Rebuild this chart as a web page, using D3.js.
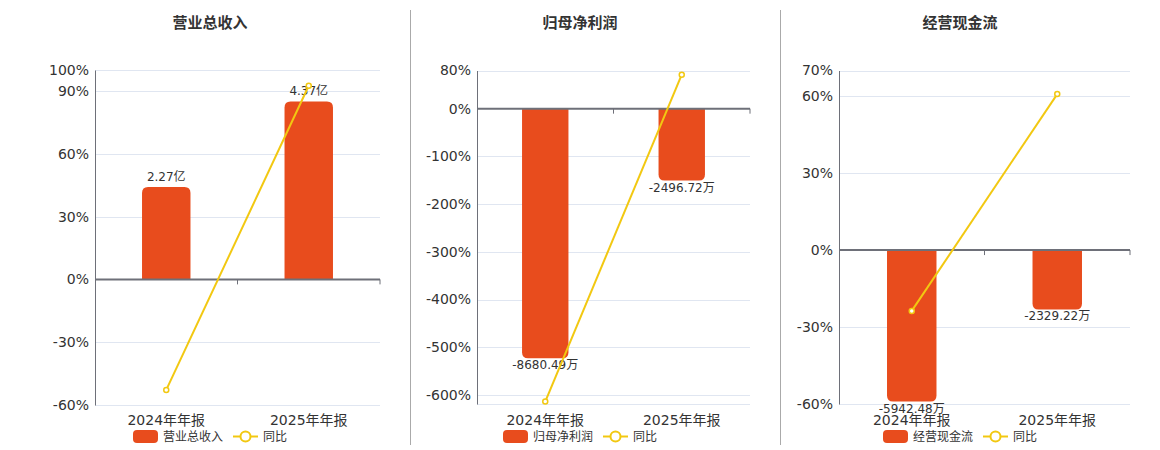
<!DOCTYPE html>
<html><head><meta charset="utf-8">
<script src="https://cdn.jsdelivr.net/npm/d3@7/dist/d3.min.js"></script>
<style>
body{margin:0;background:#fff;}
svg{display:block;font-family:"DejaVu Sans","Noto Sans CJK SC",sans-serif;}
</style></head>
<body><svg id="c" width="1160" height="450"></svg>
<script>
// ---- data ----
const categories = ["2024年年报", "2025年年报"];
const titles = ["营业总收入", "归母净利润", "经营现金流"];
const barValues1 = [2.27, 4.37];          // 亿
const barValues2 = [-8680.49, -2496.72];  // 万
const barValues3 = [-5942.48, -2329.22];  // 万
const barLabels1 = ["2.27亿", "4.37亿"];
const barLabels2 = ["-8680.49万", "-2496.72万"];
const barLabels3 = ["-5942.48万", "-2329.22万"];
const yoy1 = [-52.8, 92.5];
const yoy2 = [-614, 71.2];
const yoy3 = [-23.7, 60.8];
const pctTicks1 = [100, 90, 60, 30, 0, -30, -60];
const pctTicks2 = [80, 0, -100, -200, -300, -400, -500, -600];
const pctTicks3 = [70, 60, 30, 0, -30, -60];
const pctDomain1 = [-60, 100];
const pctDomain2 = [-619, 80];
const pctDomain3 = [-60, 70];
// hidden bar-axis extents (value units) aligned to the percent axis
const barDomain1 = [-3.08, 5.14];
const barDomain2 = [-10270, 1330];
const barDomain3 = [-6040, 7050];

const panels = [
  {title: titles[0], bars: barValues1, labels: barLabels1, yoy: yoy1, ticks: pctTicks1, dom: pctDomain1, bdom: barDomain1,
   left: 95, right: 380, top: 70, bottom: 405, cx: 210},
  {title: titles[1], bars: barValues2, labels: barLabels2, yoy: yoy2, ticks: pctTicks2, dom: pctDomain2, bdom: barDomain2,
   left: 477, right: 750, top: 70.5, bottom: 404, cx: 580},
  {title: titles[2], bars: barValues3, labels: barLabels3, yoy: yoy3, ticks: pctTicks3, dom: pctDomain3, bdom: barDomain3,
   left: 839, right: 1130, top: 70.5, bottom: 404, cx: 960}
];

const BAR = "#E84C1D", LINE = "#F2C811", TXT = "#333", AXIS = "#6E7079", GRID = "#E0E6F1";
const svg = d3.select("#c");

// dividers
[410, 780].forEach(x => svg.append("line").attr("x1", x + 0.5).attr("x2", x + 0.5).attr("y1", 10).attr("y2", 445)
  .attr("stroke", "#aaa").attr("stroke-width", 1));

function roundedBar(x, w, y0, y1, r) {
  const h = Math.abs(y1 - y0);
  r = Math.min(r, h, w / 2);
  if (y1 < y0) {
    return `M${x},${y0}V${y1 + r}Q${x},${y1} ${x + r},${y1}H${x + w - r}Q${x + w},${y1} ${x + w},${y1 + r}V${y0}Z`;
  } else {
    return `M${x},${y0}V${y1 - r}Q${x},${y1} ${x + r},${y1}H${x + w - r}Q${x + w},${y1} ${x + w},${y1 - r}V${y0}Z`;
  }
}

panels.forEach(p => {
  const g = svg.append("g");
  const y = d3.scaleLinear().domain(p.dom).range([p.bottom, p.top]);
  const yb = d3.scaleLinear().domain(p.bdom).range([p.bottom, p.top]);
  const x = d3.scaleBand().domain(categories).range([p.left, p.right]);
  const bw = x.bandwidth() * 0.34;
  const y0 = y(0);

  g.append("text").attr("x", p.cx).attr("y", 28).attr("text-anchor", "middle")
    .attr("font-size", 15).attr("font-weight", "bold").attr("fill", TXT).text(p.title);

  const gridVals = p.ticks.filter(t => t !== 0).concat([p.dom[0]]);
  g.selectAll(".grid").data(gridVals).enter().append("line")
    .attr("x1", p.left).attr("x2", p.right)
    .attr("y1", d => Math.round(y(d)) + 0.5).attr("y2", d => Math.round(y(d)) + 0.5)
    .attr("stroke", GRID).attr("stroke-width", 1);

  const ax = d3.axisLeft(y).tickValues(p.ticks).tickSize(0).tickPadding(6).tickFormat(d => d + "%");
  const ag = g.append("g").attr("transform", `translate(${p.left},0)`).call(ax);
  ag.select(".domain").attr("stroke", AXIS).attr("stroke-width", 1);
  ag.selectAll("text").attr("font-size", 14).attr("fill", TXT).attr("font-family", "DejaVu Sans");

  p.bars.forEach((v, i) => {
    const cx = x(categories[i]) + x.bandwidth() / 2;
    g.append("path").attr("d", roundedBar(cx - bw / 2, bw, y0, yb(v), 6)).attr("fill", BAR);
  });

  const xa = d3.axisBottom(x).tickSize(5).tickFormat("");
  const xg = g.append("g").attr("transform", `translate(0,${y0})`).call(xa);
  xg.select(".domain").attr("stroke", AXIS).attr("stroke-width", 2).attr("d", `M${p.left},0H${p.right}`);
  xg.selectAll(".tick").remove();
  [x(categories[1]), p.right].forEach(tx => g.append("line").attr("x1", tx).attr("x2", tx)
    .attr("y1", y0).attr("y2", y0 + 5).attr("stroke", AXIS).attr("stroke-width", 1));

  categories.forEach((c, i) => {
    g.append("text").attr("x", x(c) + x.bandwidth() / 2).attr("y", 425).attr("text-anchor", "middle")
      .attr("font-size", 14).attr("fill", TXT).text(c);
  });

  p.bars.forEach((v, i) => {
    const cx = x(categories[i]) + x.bandwidth() / 2;
    const ye = yb(v);
    g.append("text").attr("x", cx).attr("y", v >= 0 ? ye - 6 : ye + 11).attr("text-anchor", "middle")
      .attr("font-size", 12).attr("fill", TXT).text(p.labels[i]);
  });

  const pts = p.yoy.map((v, i) => [x(categories[i]) + x.bandwidth() / 2, y(v)]);
  g.append("path").attr("d", d3.line()(pts)).attr("fill", "none").attr("stroke", LINE).attr("stroke-width", 2);
  pts.forEach(pt => g.append("circle").attr("cx", pt[0]).attr("cy", pt[1]).attr("r", 2.5)
    .attr("fill", "#fff").attr("stroke", LINE).attr("stroke-width", 1.5));

  const lg = g.append("g");
  const nameW = p.title.length * 12;
  const total = 25 + 5 + nameW + 10 + 25 + 5 + 24;
  let lx = p.cx - total / 2;
  lg.append("rect").attr("x", lx).attr("y", 430).attr("width", 25).attr("height", 13).attr("rx", 4).attr("fill", BAR);
  lg.append("text").attr("x", lx + 30).attr("y", 441).attr("font-size", 12).attr("fill", TXT).text(p.title);
  lx += 30 + nameW + 10;
  lg.append("line").attr("x1", lx).attr("x2", lx + 25).attr("y1", 436.5).attr("y2", 436.5).attr("stroke", LINE).attr("stroke-width", 2);
  lg.append("circle").attr("cx", lx + 12.5).attr("cy", 436.5).attr("r", 5).attr("fill", "#fff").attr("stroke", LINE).attr("stroke-width", 2);
  lg.append("text").attr("x", lx + 30).attr("y", 441).attr("font-size", 12).attr("fill", TXT).text("同比");
});
</script></body></html>
